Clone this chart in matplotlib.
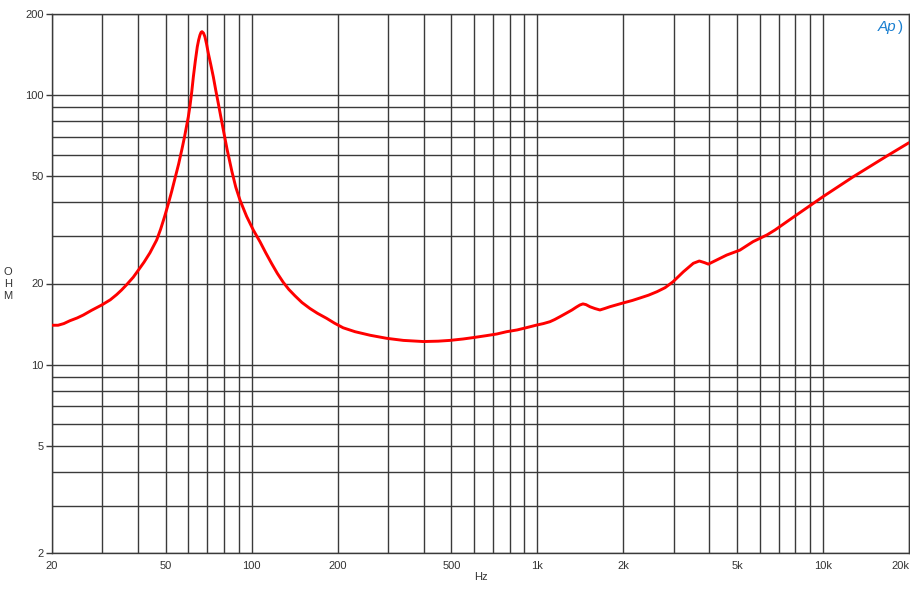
import matplotlib
matplotlib.use("Agg")
import matplotlib.pyplot as plt
from matplotlib.ticker import FixedLocator, NullLocator

freq_hz = [20, 21, 22, 23.1, 24.5, 25.75, 27.5, 29.85, 32, 33.7, 35, 36.5, 38.5, 40.1,
           42, 44.05, 46.5, 48, 49.6, 51, 52.5, 54, 55.5, 57, 58.2, 59.2, 60, 60.8,
           61.7, 62.5, 63.5, 64.5, 65.2, 65.9, 66.5, 67, 67.8, 68.6, 69.5, 70.5, 71.9,
           73.4, 74.9, 76.4, 78, 79.6, 82, 85.3, 88, 91, 96, 101.3, 106.9, 112, 117.5,
           123, 129, 135, 141.8, 150, 160, 170, 183, 195, 209, 230, 260, 297, 339.6,
           399, 450, 494, 550, 597, 660, 721, 781, 850, 905, 997, 1050, 1107, 1150,
           1200, 1260, 1322, 1370, 1410, 1444, 1480, 1528, 1590, 1656, 1720, 1795, 1994,
           2150, 2287, 2450, 2624, 2800, 2985, 3244, 3516, 3690, 3850, 3967, 4245, 4600,
           5118, 5690, 6370, 6793, 7979, 10000, 12766, 16711, 20000]
impedance_ohm = [14.0, 14.0, 14.2, 14.55, 14.9, 15.28, 15.9, 16.64, 17.4, 18.2, 18.9,
                 19.8, 21.1, 22.4, 24.0, 26.0, 29.0, 31.8, 35.5, 39.3, 44.0, 49.5, 55.5,
                 63.0, 70.0, 77.0, 83.0, 91.0, 103.0, 117.0, 134.0, 151.0, 160.0, 167.0,
                 171.0, 172.0, 170.0, 164.7, 155.0, 143.0, 130.0, 117.0, 104.0, 93.3,
                 83.0, 74.2, 63.0, 52.0, 45.5, 40.8, 35.5, 31.6, 28.6, 26.0, 23.7, 21.8,
                 20.2, 19.0, 18.0, 17.0, 16.15, 15.5, 14.85, 14.25, 13.7, 13.25, 12.85,
                 12.52, 12.3, 12.18, 12.22, 12.3, 12.45, 12.6, 12.8, 12.99, 13.25, 13.45,
                 13.67, 14.03, 14.2, 14.43, 14.7, 15.06, 15.5, 15.95, 16.35, 16.65, 16.8,
                 16.7, 16.4, 16.15, 15.95, 16.15, 16.4, 16.93, 17.3, 17.67, 18.1, 18.65,
                 19.3, 20.3, 22.1, 23.77, 24.24, 23.9, 23.6, 24.45, 25.5, 26.6, 28.6,
                 30.3, 31.6, 35.6, 42.0, 49.8, 59.4, 66.6]

x_grid = [20, 30, 40, 50, 60, 70, 80, 90, 100, 200, 300, 400, 500, 600, 700, 800, 900,
          1000, 2000, 3000, 4000, 5000, 6000, 7000, 8000, 9000, 10000, 20000]
x_tick_vals = [20, 50, 100, 200, 500, 1000, 2000, 5000, 10000, 20000]
x_tick_labels = ["20", "50", "100", "200", "500", "1k", "2k", "5k", "10k", "20k"]
y_grid = [2, 3, 4, 5, 6, 7, 8, 9, 10, 20, 30, 40, 50, 60, 70, 80, 90, 100, 200]
y_tick_vals = [2, 5, 10, 20, 50, 100, 200]
y_tick_labels = ["2", "5", "10", "20", "50", "100", "200"]

plt.rcParams['font.family'] = ['Liberation Sans', 'DejaVu Sans']

fig = plt.figure(figsize=(9.1, 6.0), dpi=100)
ax = fig.add_axes([52/910, 1 - 553/600, (909-52)/910, (553-14)/600])
ax.set_xscale('log')
ax.set_yscale('log')
ax.set_xlim(20, 20000)
ax.set_ylim(2, 200)

gc = '#3a3a3a'
for xv in x_grid:
    ax.axvline(xv, color=gc, lw=1.0, zorder=1)
for yv in y_grid:
    ax.axhline(yv, color=gc, lw=1.0, zorder=1)

ax.plot(freq_hz, impedance_ohm, color='#ff0000', lw=2.1, zorder=3,
        solid_joinstyle='round', solid_capstyle='round')

ax.xaxis.set_major_locator(FixedLocator(x_tick_vals))
ax.xaxis.set_minor_locator(NullLocator())
ax.set_xticklabels(x_tick_labels)
ax.yaxis.set_major_locator(FixedLocator(y_tick_vals))
ax.yaxis.set_minor_locator(NullLocator())
ax.set_yticklabels(y_tick_labels)
ax.tick_params(axis='x', length=0, pad=6, labelsize=8, colors='#333333')
ax.tick_params(axis='y', length=4, width=1, color=gc, pad=2, labelsize=8, labelcolor='#333333')
xl = ax.get_xticklabels()
xl[-1].set_horizontalalignment('right')

for s in ax.spines.values():
    s.set_color(gc)
    s.set_linewidth(1.0)

fig.text(481/910, 1 - 577/600, "Hz", ha='center', va='center', fontsize=8, color='#333333')
fig.text(8/910, 1 - 284/600, "O\nH\nM", ha='center', va='center', fontsize=8,
         color='#333333', linespacing=1.3)
fig.text(887/910, 1 - 27/600, "Ap", ha='center', va='center', fontsize=11,
         color='#1a7fd0', style='italic')
fig.text(901/910, 1 - 27/600, ")", ha='center', va='center', fontsize=11,
         color='#1a7fd0')

fig.savefig("out.png", dpi=100)
